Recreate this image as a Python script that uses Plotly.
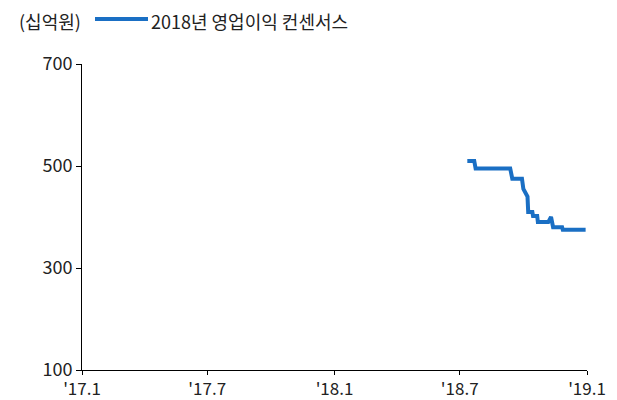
import plotly.graph_objects as go

dates = ["2018-07-12", "2018-07-22", "2018-07-24", "2018-09-12", "2018-09-15",
         "2018-09-29", "2018-10-01", "2018-10-07", "2018-10-08", "2018-10-14",
         "2018-10-15", "2018-10-21", "2018-10-22", "2018-11-06", "2018-11-10",
         "2018-11-13", "2018-11-26", "2018-11-27", "2018-12-30"]
values = [510, 510, 495, 495, 475, 475, 455, 440, 410, 410,
          402, 402, 390, 390, 400, 380, 380, 375, 375]
series_name = "2018년 영업이익 컨센서스"
unit_label = "(십억원)"
x_tickvals = ["2017-01-01", "2017-07-01", "2018-01-01", "2018-07-01", "2019-01-01"]
x_ticktext = ["'17.1", "'17.7", "'18.1", "'18.7", "'19.1"]
y_tickvals = [100, 300, 500, 700]

font = "Noto Sans CJK KR, Noto Sans, sans-serif"
blue = "#1a6fc4"

# page body has an 8px margin, so the figure is drawn 8px in from the window edge
OFF = 8
W, H = 617 - OFF, 400 - OFF
L, T = 82 - OFF, 64 - OFF
R, B = W - (587 - OFF), H - (370 - OFF)
pw, ph = W - L - R, H - T - B


def px(x):
    return (x - OFF - L) / pw


def py(y):
    return (H - B - (y - OFF)) / ph


fig = go.Figure()
fig.add_trace(go.Scatter(x=dates, y=values, mode="lines", name=series_name,
                         line=dict(color=blue, width=4), showlegend=False))

fig.update_layout(
    width=W, height=H,
    margin=dict(l=L, r=R, t=T, b=B, autoexpand=False),
    paper_bgcolor="white", plot_bgcolor="white",
    font=dict(family=font, size=18, color="#222"),
    showlegend=False,
    xaxis=dict(type="date", range=["2017-01-01", "2019-01-01"],
               tickvals=x_tickvals, ticktext=x_ticktext,
               showline=True, linecolor="black", linewidth=1,
               ticks="outside", tickcolor="black", ticklen=4,
               showgrid=False, zeroline=False, automargin=False,
               tickfont=dict(size=17)),
    yaxis=dict(range=[100, 700], tickvals=y_tickvals,
               showline=True, linecolor="black", linewidth=1,
               ticks="outside", tickcolor="black", ticklen=5,
               showgrid=False, zeroline=False, automargin=False,
               tickfont=dict(size=18)),
    shapes=[dict(type="line", xref="paper", yref="paper",
                 x0=px(95), x1=px(148), y0=py(19), y1=py(19),
                 line=dict(color=blue, width=4))],
    annotations=[
        dict(text=unit_label, xref="paper", yref="paper",
             x=px(18), y=py(21), xanchor="left", yanchor="middle",
             showarrow=False, borderpad=0, font=dict(size=18)),
        dict(text=series_name, xref="paper", yref="paper",
             x=px(150), y=py(21), xanchor="left", yanchor="middle",
             showarrow=False, borderpad=0, font=dict(size=18)),
    ],
)

fig.write_html("out.html")
